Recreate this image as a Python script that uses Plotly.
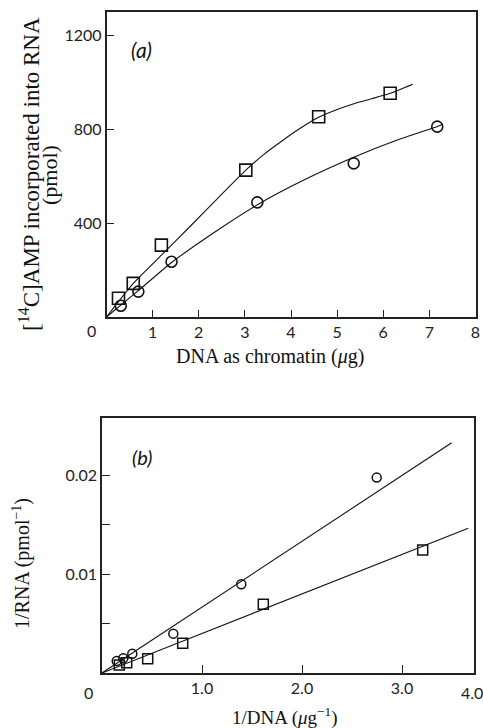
import plotly.graph_objects as go

W, H = 483, 728

# ---------------- Panel (a) data ----------------
a_sq_x = [0.26, 0.58, 1.19, 3.02, 4.60, 6.15]
a_sq_y = [80, 143, 306, 625, 852, 952]
a_ci_x = [0.31, 0.69, 1.41, 3.27, 5.36, 7.17]
a_ci_y = [48, 108, 235, 488, 654, 810]
# hand-drawn fitted curves
a_sq_curve_x = [0, 0.58, 1.19, 1.8, 2.4, 3.02, 3.4, 3.81, 4.2, 4.6, 5.0, 5.38, 5.77, 6.15, 6.64]
a_sq_curve_y = [0, 143, 263, 383, 503, 625, 690, 750, 803, 850, 883, 909, 930, 952, 991]
a_ci_curve_x = [0, 0.69, 1.41, 2.35, 3.29, 4.3, 5.36, 6.26, 7.16, 7.3]
a_ci_curve_y = [0, 112, 232, 362, 480, 585, 680, 750, 810, 820]
a_xticks = [1, 2, 3, 4, 5, 6, 7, 8]
a_yticks = [400, 800, 1200]

# ---------------- Panel (b) data ----------------
b_ci_x = [0.147, 0.213, 0.303, 0.713, 1.393, 2.747]
b_ci_y = [0.00121, 0.00149, 0.00195, 0.00398, 0.00898, 0.01977]
b_sq_x = [0.173, 0.247, 0.457, 0.807, 1.613, 3.207]
b_sq_y = [0.00081, 0.00104, 0.00145, 0.00301, 0.00695, 0.01245]
b_ci_line_x = [0, 3.497]
b_ci_line_y = [0, 0.0233]
b_sq_line_x = [0, 3.663]
b_sq_line_y = [0, 0.01465]
b_xticks = [1.0, 2.0, 3.0]
b_xticktext = ["1.0", "2.0", "3.0"]
b_yticks = [0.005, 0.01, 0.015, 0.02]
b_yticktext = ["", "0.01", "", "0.02"]


def px(x):
    return x / W


def py(y):
    return 1 - y / H


fig = go.Figure()

line_style = dict(color="#111", width=1.1)
sq_marker_a = dict(symbol="square-open", size=12, color="#111", line=dict(width=1.6, color="#111"))
ci_marker_a = dict(symbol="circle-open", size=11, color="#111", line=dict(width=1.6, color="#111"))
sq_marker_b = dict(symbol="square-open", size=10, color="#111", line=dict(width=1.5, color="#111"))
ci_marker_b = dict(symbol="circle-open", size=9, color="#111", line=dict(width=1.5, color="#111"))

fig.add_trace(go.Scatter(x=a_sq_curve_x, y=a_sq_curve_y, mode="lines", line=dict(shape="spline", smoothing=0.5, **line_style),
                         xaxis="x", yaxis="y", showlegend=False, hoverinfo="skip"))
fig.add_trace(go.Scatter(x=a_ci_curve_x, y=a_ci_curve_y, mode="lines", line=dict(shape="spline", smoothing=0.5, **line_style),
                         xaxis="x", yaxis="y", showlegend=False, hoverinfo="skip"))
fig.add_trace(go.Scatter(x=a_sq_x, y=a_sq_y, mode="markers", marker=sq_marker_a, xaxis="x", yaxis="y", showlegend=False))
fig.add_trace(go.Scatter(x=a_ci_x, y=a_ci_y, mode="markers", marker=ci_marker_a, xaxis="x", yaxis="y", showlegend=False))

fig.add_trace(go.Scatter(x=b_ci_line_x, y=b_ci_line_y, mode="lines", line=line_style, xaxis="x2", yaxis="y2", showlegend=False, hoverinfo="skip"))
fig.add_trace(go.Scatter(x=b_sq_line_x, y=b_sq_line_y, mode="lines", line=line_style, xaxis="x2", yaxis="y2", showlegend=False, hoverinfo="skip"))
fig.add_trace(go.Scatter(x=b_ci_x, y=b_ci_y, mode="markers", marker=ci_marker_b, xaxis="x2", yaxis="y2", showlegend=False))
fig.add_trace(go.Scatter(x=b_sq_x, y=b_sq_y, mode="markers", marker=sq_marker_b, xaxis="x2", yaxis="y2", showlegend=False))

tickfont = dict(family="Lato", size=16, color="#222")
axis_common = dict(showline=True, mirror=True, linecolor="#222", linewidth=1.5, showgrid=False, zeroline=False,
                   ticks="inside", tickcolor="#222", tickwidth=1.3, tickfont=tickfont, automargin=False)

fig.update_layout(
    width=W, height=H,
    margin=dict(l=0, r=0, t=0, b=0, autoexpand=False),
    paper_bgcolor="white", plot_bgcolor="white",
    xaxis=dict(domain=[px(106.5), px(475.5)], range=[0, 8], anchor="y", tickvals=a_xticks,
               ticklen=7, **axis_common),
    yaxis=dict(domain=[py(317), py(12)], range=[0, 1298], anchor="x", tickvals=a_yticks,
               ticklen=8, **axis_common),
    xaxis2=dict(domain=[px(102), px(474)], range=[0, 3.72], anchor="y2", tickvals=b_xticks, ticktext=b_xticktext,
                ticklen=8, **axis_common),
    yaxis2=dict(domain=[py(673), py(418)], range=[0, 0.0258], anchor="x2", tickvals=b_yticks, ticktext=b_yticktext,
                ticklen=8, **axis_common),
)

serif = "Liberation Serif"
ann = []
# corner zero labels and right-end label of panel b
ann.append(dict(x=px(91), y=py(331), text="0", font=tickfont))
ann.append(dict(x=px(88), y=py(692), text="0", font=tickfont))
ann.append(dict(x=px(472), y=py(692), text="4.0", font=tickfont))
# panel letters
ann.append(dict(x=px(141), y=py(50), text="<i>(a)</i>", font=dict(family="Lato", size=21, color="#111")))
ann.append(dict(x=px(142), y=py(457), text="<i>(b)</i>", font=dict(family="Lato", size=20, color="#111")))
# axis titles
ann.append(dict(x=px(29), y=py(174), text="[<sup>14</sup>C]AMP incorporated into RNA", textangle=-90,
                font=dict(family=serif, size=23, color="#111")))
ann.append(dict(x=px(49), y=py(175), text="(pmol)", textangle=-90,
                font=dict(family=serif, size=22, color="#111")))
ann.append(dict(x=px(270), y=py(356), text="DNA as chromatin (<i>μ</i>g)", font=dict(family=serif, size=20, color="#111")))
ann.append(dict(x=px(21), y=py(564), text="1/RNA (pmol<sup>−1</sup>)", textangle=-90,
                font=dict(family=serif, size=20, color="#111")))
ann.append(dict(x=px(285), y=py(716), text="1/DNA (<i>μ</i>g<sup>−1</sup>)", font=dict(family=serif, size=19, color="#111")))

for a in ann:
    a.update(xref="paper", yref="paper", showarrow=False, xanchor="center", yanchor="middle")
fig.update_layout(annotations=ann)

fig.write_html("out.html", config={"displayModeBar": False},
               post_script="document.body.style.margin='0';document.body.style.overflow='hidden';")
